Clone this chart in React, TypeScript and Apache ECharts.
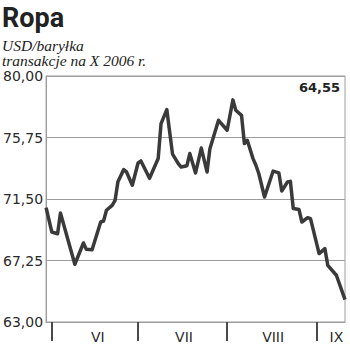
import React, { useEffect, useRef } from 'react';
import * as echarts from 'echarts';

const dates = [
  '2006-05-30', '2006-06-01', '2006-06-03', '2006-06-04', '2006-06-09', '2006-06-12', '2006-06-13',
  '2006-06-15', '2006-06-18', '2006-06-19', '2006-06-20', '2006-06-22', '2006-06-23', '2006-06-24',
  '2006-06-26', '2006-06-27', '2006-06-29',
  '2006-07-01', '2006-07-02', '2006-07-05', '2006-07-08', '2006-07-09', '2006-07-11', '2006-07-12',
  '2006-07-13', '2006-07-15', '2006-07-16', '2006-07-18', '2006-07-19', '2006-07-21', '2006-07-23',
  '2006-07-25', '2006-07-26', '2006-07-29',
  '2006-08-01', '2006-08-03', '2006-08-04', '2006-08-06', '2006-08-07', '2006-08-08', '2006-08-10',
  '2006-08-11', '2006-08-12', '2006-08-14', '2006-08-17', '2006-08-19', '2006-08-20', '2006-08-22',
  '2006-08-23', '2006-08-24', '2006-08-26', '2006-08-27', '2006-08-29', '2006-08-30',
  '2006-09-02', '2006-09-04', '2006-09-05', '2006-09-08', '2006-09-11',
];

const prices = [
  70.9, 69.22, 69.1, 70.53, 66.99, 68.46, 68.02,
  68.0, 69.91, 69.98, 70.72, 71.06, 71.4, 72.7,
  73.53, 73.37, 72.45,
  73.99, 74.13, 72.93, 74.3, 76.71, 77.68, 76.13,
  74.6, 73.94, 73.71, 73.8, 74.64, 73.3, 75.02,
  73.37, 74.98, 76.94,
  76.25, 78.35, 77.63, 77.28, 75.33, 75.56, 74.29,
  73.83, 73.26, 71.64, 73.43, 73.3, 72.05, 72.68,
  72.72, 70.84, 70.77, 69.91, 70.21, 70.14,
  67.73, 68.07, 66.92, 66.23, 64.55,
];

const monthStarts = ['2006-06-01', '2006-07-01', '2006-08-01', '2006-09-01'];
const monthLabelDates = ['2006-06-17', '2006-07-17', '2006-08-17', '2006-09-08'];
const monthNames = ['VI', 'VII', 'VIII', 'IX'];
const yTicks = [63, 67.25, 71.5, 75.75, 80];

const title = 'Ropa';
const subtitleLines = ['USD/baryłka', 'transakcje na X 2006 r.'];

const DAY = 86400000;
const ts = (s: string) => {
  const [y, m, d] = s.split('-').map(Number);
  return Date.UTC(y, m - 1, d) / DAY; // day number
};
const fmt = (v: number) => v.toFixed(2).replace('.', ',');

export default function App() {
  const ref = useRef<HTMLDivElement>(null);
  useEffect(() => {
    const chart = echarts.init(ref.current!, null, { renderer: 'svg' });
    const labelTs = monthLabelDates.map(ts);
    const gridColor = '#9c9c9c';
    chart.setOption({
      animation: false,
      backgroundColor: '#ffffff',
      grid: {
        left: 45,
        right: 5,
        top: 76,
        bottom: 33,
        show: true,
        borderColor: gridColor,
        borderWidth: 1,
      },
      xAxis: {
        type: 'value',
        min: ts(dates[0]),
        max: ts(dates[dates.length - 1]),
        axisLine: { show: true, lineStyle: { color: gridColor, width: 1 } },
        axisTick: {
          show: true,
          customValues: monthStarts.map(ts),
          length: 19,
          lineStyle: { color: '#4a4a4a', width: 2 },
        },
        axisLabel: {
          customValues: labelTs,
          formatter: (v: number) => {
            const i = labelTs.indexOf(v);
            return i >= 0 ? monthNames[i] : '';
          },
          margin: 8,
          fontFamily: 'DejaVu Sans',
          fontSize: 14,
          color: '#2a2a2a',
        },
        splitLine: { show: false },
      },
      yAxis: {
        type: 'value',
        min: yTicks[0],
        max: yTicks[yTicks.length - 1],
        axisLine: { show: true, lineStyle: { color: gridColor, width: 1 } },
        axisTick: { show: false, customValues: yTicks },
        axisLabel: {
          customValues: yTicks,
          formatter: (v: number) => fmt(v),
          margin: 3,
          fontFamily: 'DejaVu Sans',
          fontSize: 14,
          color: '#2a2a2a',
          padding: [5, 0, 0, 0],
        },
        splitLine: { show: true, lineStyle: { color: gridColor, width: 1 } },
      },
      series: [
        {
          type: 'line',
          data: dates.map((d, i) => [ts(d), prices[i]]),
          showSymbol: false,
          symbol: 'none',
          silent: true,
          lineStyle: { color: '#3a3a3a', width: 3.5, join: 'round' },
        },
      ],
      graphic: [
        {
          type: 'text',
          x: 2,
          y: 17.5,
          style: { text: title, font: 'bold 27px Roboto', fill: '#222', verticalAlign: 'middle' },
        },
        {
          type: 'text',
          x: 2,
          y: 37.5,
          style: {
            text: subtitleLines.join('\n'),
            font: 'italic 15.5px "Liberation Serif"',
            lineHeight: 15.5,
            fill: '#222',
            verticalAlign: 'top',
          },
        },
        {
          type: 'text',
          x: 340,
          y: 87,
          style: {
            text: fmt(prices[prices.length - 1]),
            font: 'bold 13px "DejaVu Sans"',
            fill: '#222',
            align: 'right',
            verticalAlign: 'middle',
          },
        },
      ],
    });
    return () => chart.dispose();
  }, []);
  return (
    <div
      ref={ref}
      style={{ position: 'absolute', left: 0, top: 0, width: 350, height: 355 }}
    />
  );
}
